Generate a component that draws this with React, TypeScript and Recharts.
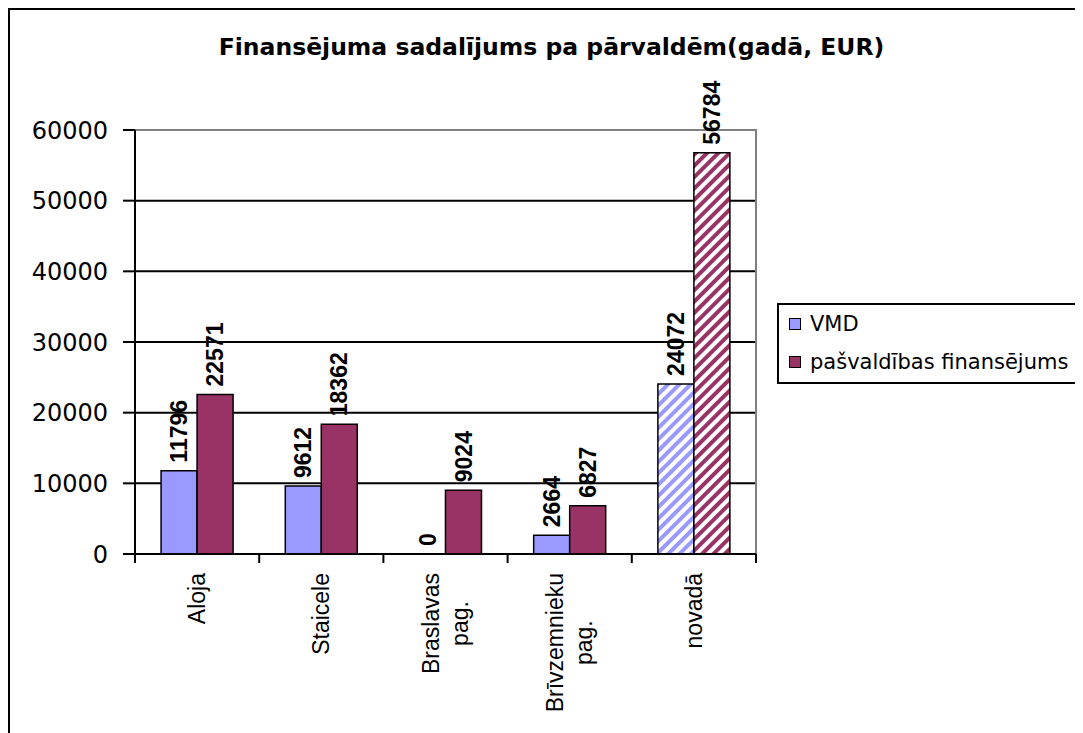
import { BarChart, Bar, XAxis, YAxis, CartesianGrid, ReferenceArea, Rectangle } from "recharts";

const categories = ["Aloja", "Staicele", "Braslavas\npag.", "Brīvzemnieku\npag.", "novadā"];
const vmd = [11796, 9612, 0, 2664, 24072];
const pasvaldibas = [22571, 18362, 9024, 6827, 56784];
const yTicks = [0, 10000, 20000, 30000, 40000, 50000, 60000];

const data = categories.map((name, i) => ({ name, vmd: vmd[i], pasv: pasvaldibas[i] }));

const W = 1073;
const H = 723;
const MARGIN = { top: 120, right: 327, bottom: 0, left: 0 };
const Y_W = 125;
const BAND = (W - Y_W - MARGIN.right) / categories.length;

const BLUE = "#9999FF";
const PLUM = "#993366";
const ROT_FONT = "'Liberation Sans', Arial, sans-serif";
const FLAT_FONT = "'DejaVu Sans', sans-serif";

let ctx: CanvasRenderingContext2D | null = null;
function textWidth(s: string, font: string) {
  if (!ctx) ctx = document.createElement("canvas").getContext("2d");
  if (!ctx) return s.length * 12;
  ctx.font = font;
  return ctx.measureText(s).width;
}

function CategoryTick(props: any) {
  const { x, y, payload, index } = props;
  const lines = String(payload.value).split("\n");
  const L = Math.max(...lines.map((l) => textWidth(l, "23px 'Liberation Sans'")));
  return (
    <g>
      <line x1={x - BAND / 2} x2={x - BAND / 2} y1={y} y2={y + 9} stroke="#000" strokeWidth={2} />
      {index === categories.length - 1 && (
        <line x1={x + BAND / 2} x2={x + BAND / 2} y1={y} y2={y + 9} stroke="#000" strokeWidth={2} />
      )}
      <text transform={`translate(${x},${y + 19}) rotate(-90)`} fontFamily={ROT_FONT} fontSize={23} fill="#000">
        {lines.map((l, i) => (
          <tspan key={i} x={-L / 2} y={(i - (lines.length - 1) / 2) * 29} dy="0.35em" textAnchor="middle">
            {l}
          </tspan>
        ))}
      </text>
    </g>
  );
}

// bar + rotated value label; drawn even for zero-height bars
function makeShape(color: string, hatchId: string, key: "vmd" | "pasv") {
  return (props: any) => {
    const { x, y, width, height, index } = props;
    const value = data[index][key];
    const fill = index === categories.length - 1 ? `url(#${hatchId})` : color;
    return (
      <g>
        {height > 0 && (
          <Rectangle x={x} y={y} width={width} height={height} fill={fill} stroke="#000" strokeWidth={1.5} />
        )}
        <text
          transform={`translate(${x + width / 2},${y - 8}) rotate(-90)`}
          dy="0.35em"
          textAnchor="start"
          fontFamily={ROT_FONT}
          fontWeight="bold"
          fontSize={23}
          fill="#000"
        >
          {value}
        </text>
      </g>
    );
  };
}

const vmdShape = makeShape(BLUE, "hatchBlue", "vmd");
const pasvShape = makeShape(PLUM, "hatchPlum", "pasv");

export default function App() {
  return (
    <div
      style={{
        position: "relative",
        width: 1075,
        height: 725,
        overflow: "hidden",
        boxSizing: "border-box",
        borderLeft: "2px solid #000",
        borderTop: "2px solid #000",
        background: "#fff",
      }}
    >
      <div
        style={{
          position: "absolute",
          left: 0,
          top: 26,
          width: 1083,
          textAlign: "center",
          fontFamily: FLAT_FONT,
          fontWeight: "bold",
          fontSize: 23.5,
          lineHeight: "23px",
          color: "#000",
        }}
      >
        Finansējuma sadalījums pa pārvaldēm(gadā, EUR)
      </div>

      <BarChart width={W} height={H} data={data} margin={MARGIN} barCategoryGap="21%" barGap={0}>
        <defs>
          <pattern id="hatchBlue" width={8} height={8} patternUnits="userSpaceOnUse" patternTransform="rotate(45)">
            <rect width={8} height={8} fill="#fff" />
            <rect width={4} height={8} fill={BLUE} />
          </pattern>
          <pattern id="hatchPlum" width={8} height={8} patternUnits="userSpaceOnUse" patternTransform="rotate(45)">
            <rect width={8} height={8} fill="#fff" />
            <rect width={4} height={8} fill={PLUM} />
          </pattern>
        </defs>
        <CartesianGrid vertical={false} stroke="#000" strokeWidth={2} />
        <ReferenceArea y1={0} y2={60000} fill="none" stroke="#808080" strokeWidth={2} />
        <XAxis
          dataKey="name"
          interval={0}
          height={H - MARGIN.top - 424}
          tick={<CategoryTick />}
          tickLine={false}
          tickSize={0}
          tickMargin={0}
          axisLine={{ stroke: "#000", strokeWidth: 2 }}
        />
        <YAxis
          width={Y_W}
          domain={[0, 60000]}
          ticks={yTicks}
          interval={0}
          tickSize={12}
          tickMargin={15}
          tick={{ fill: "#000", fontSize: 24, fontFamily: FLAT_FONT }}
          tickLine={{ stroke: "#000", strokeWidth: 2 }}
          axisLine={{ stroke: "#000", strokeWidth: 2 }}
        />
        <Bar dataKey="vmd" fill={BLUE} shape={vmdShape} isAnimationActive={false} />
        <Bar dataKey="pasv" fill={PLUM} shape={pasvShape} isAnimationActive={false} />
      </BarChart>

      <div
        style={{
          position: "absolute",
          left: 767,
          top: 293,
          width: 330,
          height: 77,
          border: "2px solid #000",
          fontFamily: FLAT_FONT,
          fontSize: 21,
          color: "#000",
        }}
      >
        {[
          { label: "VMD", color: BLUE },
          { label: "pašvaldības finansējums", color: PLUM },
        ].map((it, i) => (
          <div
            key={it.label}
            style={{ position: "absolute", left: 10, top: 8 + i * 38, height: 22, display: "flex", alignItems: "center" }}
          >
            <span
              style={{
                display: "inline-block",
                width: 10,
                height: 10,
                background: it.color,
                border: "1px solid #000",
                marginRight: 9,
              }}
            />
            <span style={{ lineHeight: "22px" }}>{it.label}</span>
          </div>
        ))}
      </div>
    </div>
  );
}
